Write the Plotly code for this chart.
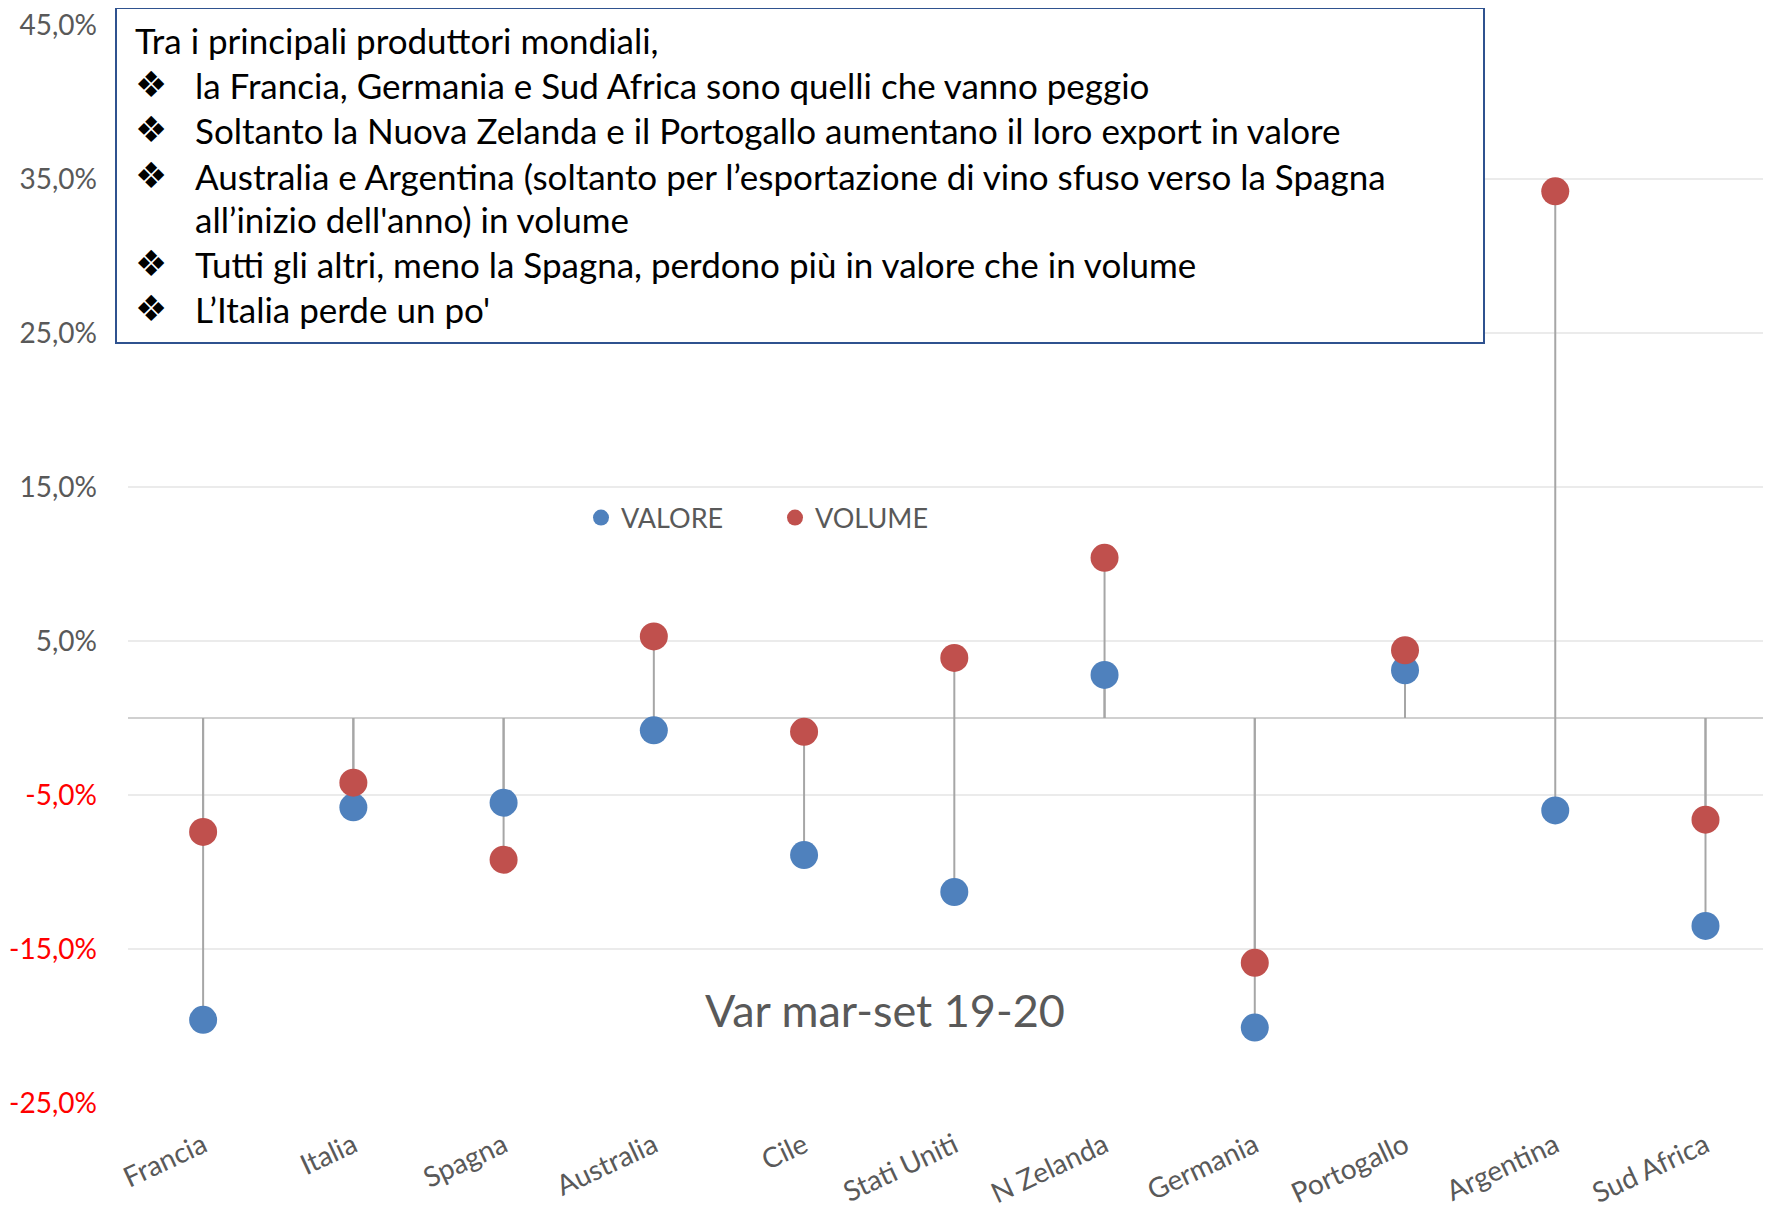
import plotly.graph_objects as go

# ---------------- data ----------------
categories = ["Francia", "Italia", "Spagna", "Australia", "Cile", "Stati Uniti",
              "N Zelanda", "Germania", "Portogallo", "Argentina", "Sud Africa"]
valore = [-19.6, -5.8, -5.5, -0.8, -8.9, -11.3, 2.8, -20.1, 3.1, -6.0, -13.5]
volume = [-7.4, -4.2, -9.2, 5.3, -0.9, 3.9, 10.4, -15.9, 4.4, 34.2, -6.6]

tick_vals = [-25, -15, -5, 5, 15, 25, 35, 45]
tick_labels = ["-25,0%", "-15,0%", "-5,0%", "5,0%", "15,0%", "25,0%", "35,0%", "45,0%"]

title_text = "Var mar-set 19-20"
box_lines = [
    ("", "Tra i principali produttori mondiali,"),
    ("❖", "la Francia, Germania e Sud Africa sono quelli che vanno peggio"),
    ("❖", "Soltanto la Nuova Zelanda e il Portogallo aumentano il loro export in valore"),
    ("❖", "Australia e Argentina (soltanto per l’esportazione di vino sfuso verso la Spagna"),
    ("", "all’inizio dell'anno) in volume"),
    ("❖", "Tutti gli altri, meno la Spagna, perdono più in valore che in volume"),
    ("❖", "L’Italia perde un po'"),
]

# ---------------- layout geometry (screen px, page body has 8px margin) ----------------
OFF = 8
SW, SH = 1771, 1213
W, H = SW - OFF, SH - OFF
PL, PR, PT, PB = 128, 1771, 25, 1103          # plot area on screen
ML, MR, MT, MB = PL - OFF, 0, PT - OFF, SH - PB
PW, PH = PR - PL, PB - PT


def px(x):
    return (x - PL) / PW


def py(y):
    return (PB - y) / PH


FONT = "Lato, 'Open Sans', sans-serif"
GREY_TXT = "#595959"

fig = go.Figure()

# drop lines from the category axis (0) to every point
dx, dy = [], []
for series in (valore, volume):
    for c, v in zip(categories, series):
        dx += [c, c, None]
        dy += [0, v, None]
fig.add_trace(go.Scatter(x=dx, y=dy, mode="lines", showlegend=False,
                         line=dict(color="#A6A6A6", width=2), hoverinfo="skip"))

fig.add_trace(go.Scatter(x=categories, y=valore, mode="markers", name="VALORE",
                         marker=dict(color="#4F81BD", size=28, line=dict(width=0))))
fig.add_trace(go.Scatter(x=categories, y=volume, mode="markers", name="VOLUME",
                         marker=dict(color="#C0504D", size=28, line=dict(width=0))))

ticktext = [
    (f"<span style='color:#FF0000'>{t}</span>" if v < 0 else t)
    for v, t in zip(tick_vals, tick_labels)
]

fig.update_layout(
    width=W, height=H,
    margin=dict(l=ML, r=MR, t=MT, b=MB, pad=0),
    paper_bgcolor="white", plot_bgcolor="white",
    font=dict(family=FONT, color=GREY_TXT),
    showlegend=True,
    legend=dict(orientation="h", x=px(581), y=py(518), xanchor="left", yanchor="middle",
                font=dict(size=27, color=GREY_TXT), bgcolor="rgba(0,0,0,0)",
                itemwidth=30, traceorder="normal", entrywidth=149),
    xaxis=dict(type="category", range=[-0.5, 10.436], showgrid=False, zeroline=False,
               showline=False, ticks="", tickangle=-25,
               tickfont=dict(size=28, color=GREY_TXT), automargin=False,
               ticklabelstandoff=20, ticklabeloverflow="allow"),
    yaxis=dict(range=[-25, 45], tickvals=tick_vals, ticktext=ticktext,
               showgrid=True, gridcolor="#EBEBEB", gridwidth=1.5,
               zeroline=True, zerolinecolor="#D0D0D0", zerolinewidth=2,
               showline=False, ticks="", tickfont=dict(size=28, color=GREY_TXT),
               automargin=False, ticklabelstandoff=30, ticklabeloverflow="allow"),
)

# chart title (bottom, inside plot)
fig.add_annotation(text=title_text, xref="paper", yref="paper",
                   x=px(885), y=py(1010), xanchor="center", yanchor="middle",
                   showarrow=False, font=dict(size=45, color=GREY_TXT, family=FONT))

# text box
fig.add_shape(type="rect", xref="paper", yref="paper",
              x0=px(116), x1=px(1484), y0=py(8), y1=py(343),
              line=dict(color="#2F528F", width=2), fillcolor="white", layer="above")

line_y = [40, 85, 130, 175.5, 218.5, 263.5, 308.5]
for (bullet, txt), yy in zip(box_lines, line_y):
    if bullet:
        fig.add_annotation(text=bullet, xref="paper", yref="paper", x=px(133), y=py(yy),
                           xanchor="left", yanchor="middle", showarrow=False,
                           font=dict(size=36, color="black", family="DejaVu Sans"))
        xs = 193
    else:
        xs = 133 if txt.startswith("Tra") else 193
    fig.add_annotation(text=txt, xref="paper", yref="paper", x=px(xs), y=py(yy),
                       xanchor="left", yanchor="middle", showarrow=False,
                       font=dict(size=35, color="black", family=FONT))

fig.write_html("out.html")
